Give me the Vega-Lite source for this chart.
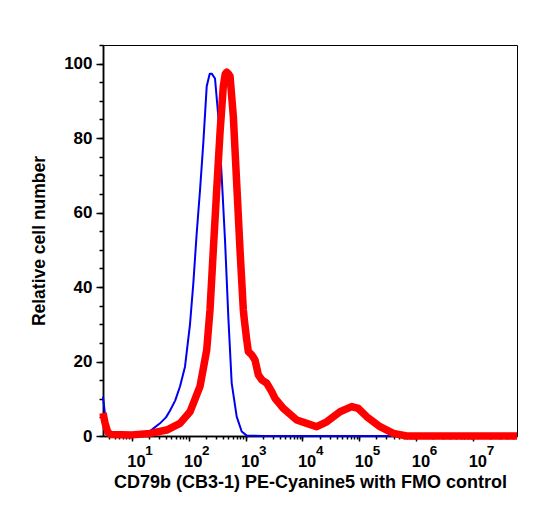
{
  "$schema": "https://vega.github.io/schema/vega-lite/v6.json",
  "autosize": "none",
  "width": 414,
  "height": 391,
  "padding": {"left": 103, "top": 45, "right": 20, "bottom": 72},
  "background": "white",
  "config": {
    "font": "Liberation Sans",
    "view": {"stroke": "black", "strokeWidth": 1},
    "axis": {
      "domainColor": "black",
      "domainWidth": 1.5,
      "tickColor": "black",
      "tickWidth": 1.5,
      "labelColor": "black",
      "labelFont": "Liberation Sans",
      "labelFontWeight": "bold",
      "titleFont": "Liberation Sans",
      "titleFontWeight": "bold",
      "titleColor": "black",
      "grid": false,
      "labelOverlap": false,
      "labelFlush": false,
      "labelBound": false
    }
  },
  "datasets": {
    "fmo": [
      {"intensity": 3.13, "count": 10.6},
      {"intensity": 3.5, "count": 4},
      {"intensity": 3.9, "count": 0.5},
      {"intensity": 6, "count": 0.3},
      {"intensity": 12.9, "count": 0.4},
      {"intensity": 17, "count": 0.9},
      {"intensity": 21, "count": 1.3},
      {"intensity": 31.4, "count": 3.4},
      {"intensity": 40, "count": 5},
      {"intensity": 47, "count": 6.8},
      {"intensity": 58, "count": 9.5},
      {"intensity": 70.6, "count": 13.3},
      {"intensity": 86.4, "count": 18.6},
      {"intensity": 105.8, "count": 30},
      {"intensity": 121, "count": 41},
      {"intensity": 138.8, "count": 54.5},
      {"intensity": 158.6, "count": 66},
      {"intensity": 181.3, "count": 78.7},
      {"intensity": 208, "count": 93.9},
      {"intensity": 235, "count": 97.3},
      {"intensity": 255, "count": 97.3},
      {"intensity": 291, "count": 96},
      {"intensity": 332.7, "count": 85.8},
      {"intensity": 381.6, "count": 69.7},
      {"intensity": 436, "count": 52.7},
      {"intensity": 498.7, "count": 32},
      {"intensity": 571.5, "count": 14.2},
      {"intensity": 699.7, "count": 5.2},
      {"intensity": 857, "count": 1.2},
      {"intensity": 1050, "count": 0.1},
      {"intensity": 2000, "count": 0},
      {"intensity": 59000000, "count": 0}
    ],
    "stained": [
      {"intensity": 3.13, "count": 6.2},
      {"intensity": 3.4, "count": 3.5},
      {"intensity": 3.8, "count": 1},
      {"intensity": 4.3, "count": 0.4},
      {"intensity": 10, "count": 0.3},
      {"intensity": 21, "count": 0.7},
      {"intensity": 41.2, "count": 1.6},
      {"intensity": 70.6, "count": 3.4},
      {"intensity": 105.8, "count": 6.5},
      {"intensity": 158.6, "count": 13.3},
      {"intensity": 208, "count": 23.1},
      {"intensity": 237.7, "count": 33.9},
      {"intensity": 271.8, "count": 50},
      {"intensity": 311.6, "count": 66.1},
      {"intensity": 356.3, "count": 81.4},
      {"intensity": 407, "count": 93.9},
      {"intensity": 440, "count": 97.2},
      {"intensity": 467.7, "count": 97.7},
      {"intensity": 500, "count": 97.3},
      {"intensity": 534.6, "count": 96.6},
      {"intensity": 611, "count": 85.8},
      {"intensity": 699.7, "count": 67.9},
      {"intensity": 800, "count": 50},
      {"intensity": 915, "count": 33.9},
      {"intensity": 953, "count": 31.2},
      {"intensity": 1050, "count": 25.8},
      {"intensity": 1120, "count": 22.7},
      {"intensity": 1285, "count": 21.8},
      {"intensity": 1469, "count": 20.4},
      {"intensity": 1680, "count": 16.4},
      {"intensity": 1928, "count": 15.1},
      {"intensity": 2358, "count": 14.2},
      {"intensity": 2886, "count": 11.9},
      {"intensity": 3300, "count": 10.1},
      {"intensity": 4616, "count": 7.4},
      {"intensity": 7937, "count": 4.3},
      {"intensity": 11900, "count": 3.4},
      {"intensity": 17830, "count": 2.5},
      {"intensity": 26730, "count": 3.8},
      {"intensity": 45800, "count": 6.5},
      {"intensity": 73500, "count": 7.9},
      {"intensity": 96000, "count": 7.4},
      {"intensity": 134900, "count": 5.2},
      {"intensity": 231000, "count": 2.5},
      {"intensity": 395600, "count": 0.7},
      {"intensity": 680600, "count": 0},
      {"intensity": 59000000, "count": 0}
    ]
  },
  "layer": [
    {
      "data": {"name": "fmo"},
      "mark": {"type": "line", "color": "#0000f0", "strokeWidth": 2, "strokeJoin": "round", "clip": false},
      "encoding": {
        "x": {
          "field": "intensity",
          "type": "quantitative",
          "scale": {"type": "log", "domain": [3.13, 59000000], "nice": false},
          "axis": {
            "orient": "bottom",
            "title": null,
            "values": [4, 5, 6, 7, 8, 9, 10, 20, 30, 40, 50, 60, 70, 80, 90, 100, 200, 300, 400, 500, 600, 700, 800, 900, 1000, 2000, 3000, 4000, 5000, 6000, 7000, 8000, 9000, 10000, 20000, 30000, 40000, 50000, 60000, 70000, 80000, 90000, 100000, 200000, 300000, 400000, 500000, 600000, 700000, 800000, 900000, 1000000, 2000000, 3000000, 4000000, 5000000, 6000000, 7000000, 8000000, 9000000, 10000000, 20000000, 30000000, 40000000, 50000000],
            "tickSize": 3,
            "labelExpr": "abs(log(datum.value) / log(10) - round(log(datum.value) / log(10))) < 0.001 ? '' + round(log(datum.value) / log(10)) : ''",
            "labelFontSize": 13.5,
            "labelAlign": "left",
            "labelBaseline": "alphabetic",
            "labelOffset": 13,
            "labelPadding": 15
          }
        },
        "y": {
          "field": "count",
          "type": "quantitative",
          "scale": {"domain": [0, 105], "nice": false},
          "axis": {
            "orient": "left",
            "title": null,
            "values": [0, 5, 10, 15, 20, 25, 30, 35, 40, 45, 50, 55, 60, 65, 70, 75, 80, 85, 90, 95, 100, 105],
            "tickSize": 4,
            "labels": false
          }
        }
      }
    },
    {
      "data": {"name": "stained"},
      "mark": {"type": "line", "color": "#ff0000", "strokeWidth": 7.5, "strokeJoin": "round", "strokeCap": "butt", "clip": false},
      "encoding": {
        "x": {
          "field": "intensity",
          "type": "quantitative",
          "axis": {
            "orient": "bottom",
            "title": "CD79b (CB3-1) PE-Cyanine5 with FMO control",
            "titleFontSize": 18,
            "titlePadding": 3,
            "values": [10, 100, 1000, 10000, 100000, 1000000, 10000000],
            "tickSize": 5,
            "labelExpr": "'10'",
            "labelFontSize": 16.5,
            "labelAlign": "left",
            "labelBaseline": "alphabetic",
            "labelOffset": -5,
            "labelPadding": 25.5
          }
        },
        "y": {
          "field": "count",
          "type": "quantitative",
          "axis": {
            "orient": "left",
            "title": "Relative cell number",
            "titleFontSize": 17.5,
            "titlePadding": 15,
            "values": [0, 20, 40, 60, 80, 100],
            "tickSize": 7,
            "labelFontSize": 17,
            "labelPadding": 4
          }
        }
      }
    }
  ],
  "resolve": {"axis": {"x": "independent", "y": "independent"}}
}
